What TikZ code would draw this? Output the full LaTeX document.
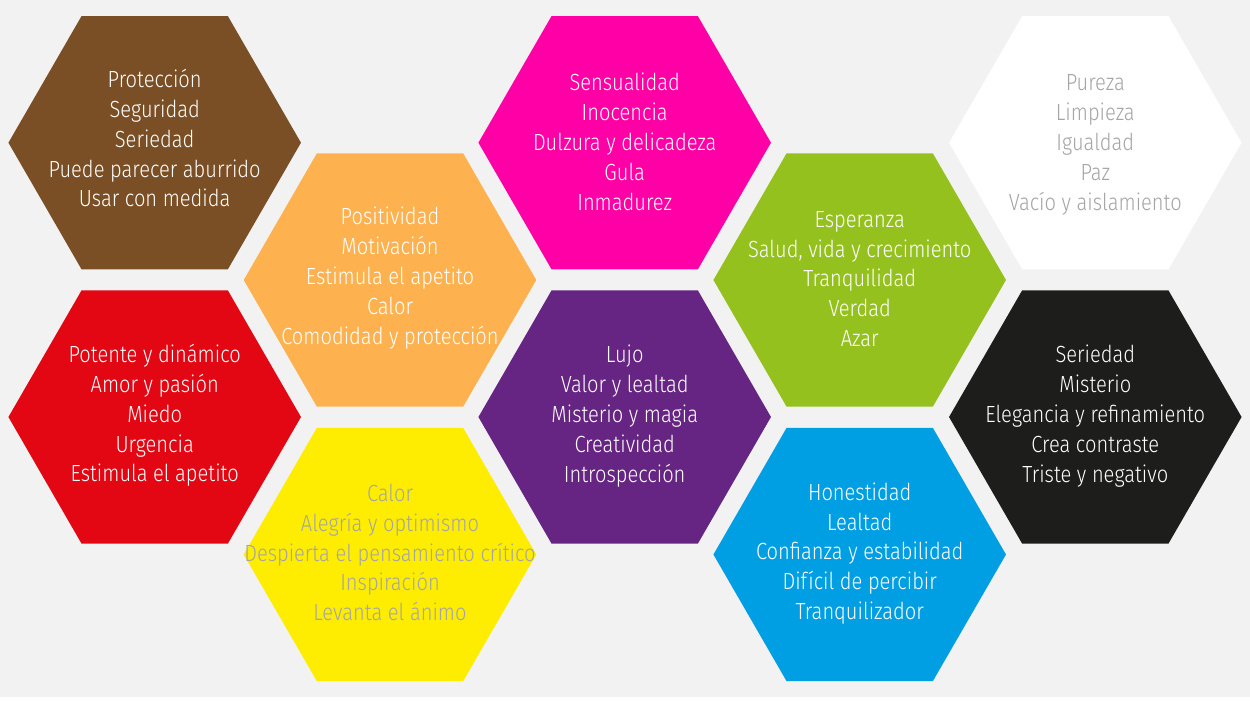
\documentclass[tikz,border=0pt]{standalone}
\usepackage{fontspec}
\setmainfont{Fira Sans Light}[FakeStretch=0.86]
\usetikzlibrary{shapes.geometric}
\definecolor{bg}{HTML}{F2F2F2}
\definecolor{cbrown}{HTML}{7B4F25}
\definecolor{corange}{HTML}{FDB14F}
\definecolor{cred}{HTML}{E30613}
\definecolor{cyellow}{HTML}{FFED00}
\definecolor{cmagenta}{HTML}{FF00A6}
\definecolor{cpurple}{HTML}{662483}
\definecolor{cgreen}{HTML}{95C11F}
\definecolor{cblue}{HTML}{009FE3}
\definecolor{cblack}{HTML}{1D1D1B}
\definecolor{cwhite}{HTML}{FFFFFF}
\definecolor{tgray}{HTML}{A5A5A5}
\tikzset{
  hexa/.style={regular polygon, regular polygon sides=6,
    minimum size=5.852cm, inner sep=0pt, outer sep=0pt, draw=none, fill=#1},
  lbl/.style={align=center, inner sep=0pt, text=#1,
    font=\fontsize{13.3}{17}\selectfont},
}
\begin{document}
\begin{tikzpicture}[x=0.02cm, y=-0.02cm]
\useasboundingbox (0,0) rectangle (1250,700);
\fill[white] (0,0) rectangle (1250,700);
\fill[bg] (0,0) rectangle (1250,697);
% hexagons
\node[hexa=cbrown]   (hbrown)   at (154.7,142.7) {};
\node[hexa=cmagenta] (hmagenta) at (624.7,142.7) {};
\node[hexa=cwhite]   (hwhite)   at (1095.3,142.7) {};
\node[hexa=corange]  (horange)  at (390,280) {};
\node[hexa=cgreen]   (hgreen)   at (859.7,280) {};
\node[hexa=cred]     (hred)     at (154.7,417) {};
\node[hexa=cpurple]  (hpurple)  at (624.7,417) {};
\node[hexa=cblack]   (hblack)   at (1095.3,417) {};
\node[hexa=cyellow]  (hyellow)  at (390,554.5) {};
\node[hexa=cblue]    (hblue)    at (859.7,554.5) {};
% labels
\node[lbl=white] (tbrown) at ([yshift=0.09cm]hbrown.center) {Protección\\Seguridad\\Seriedad\\Puede parecer aburrido\\Usar con medida};
\node[lbl=white] (tmagenta) at ([yshift=0.02cm]hmagenta.center) {Sensualidad\\Inocencia\\Dulzura y delicadeza\\Gula\\Inmadurez};
\node[lbl=tgray] (twhite) at ([yshift=-0.04cm]hwhite.center) {Pureza\\Limpieza\\Igualdad\\Paz\\Vacío y aislamiento};
\node[lbl=white] (torange) at ([yshift=0.04cm]horange.center) {Positividad\\Motivación\\Estimula el apetito\\Calor\\Comodidad y protección};
\node[lbl=white] (tgreen) at ([yshift=0.02cm]hgreen.center) {Esperanza\\Salud, vida y crecimiento\\Tranquilidad\\Verdad\\Azar};
\node[lbl=white] (tred) at ([yshift=0.03cm]hred.center) {Potente y dinámico\\Amor y pasión\\Miedo\\Urgencia\\Estimula el apetito};
\node[lbl=white] (tpurple) at ([yshift=0.02cm]hpurple.center) {Lujo\\Valor y lealtad\\Misterio y magia\\Creatividad\\Introspección};
\node[lbl=white] (tblack) at ([yshift=0.02cm]hblack.center) {Seriedad\\Misterio\\Elegancia y refinamiento\\Crea contraste\\Triste y negativo};
\node[lbl=tgray] (tyellow) at ([yshift=0.04cm]hyellow.center) {Calor\\Alegría y optimismo\\Despierta el pensamiento crítico\\Inspiración\\Levanta el ánimo};
\node[lbl=white] (tblue) at ([yshift=0.02cm]hblue.center) {Honestidad\\Lealtad\\Confianza y estabilidad\\Difícil de percibir\\Tranquilizador};
\end{tikzpicture}
\end{document}
